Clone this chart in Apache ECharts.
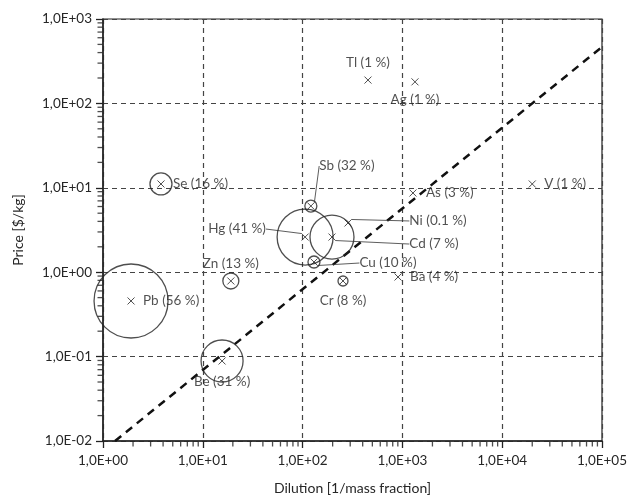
<!DOCTYPE html>
<html>
<head>
<meta charset="utf-8">
<script src="https://cdn.jsdelivr.net/npm/echarts@6/dist/echarts.min.js"></script>
<style>
  html, body { margin: 0; padding: 0; background: #fff; }
  #chart { width: 630px; height: 504px; }
</style>
</head>
<body>
<div id="chart"></div>
<script>
// elements, share and position
var elements = ['Tl', 'Ag', 'Se', 'Sb', 'Hg', 'Cd', 'Ni', 'Cu', 'Cr', 'Ba', 'As', 'V', 'Zn', 'Pb', 'Be'];
var shares   = ['1 %', '1 %', '16 %', '32 %', '41 %', '7 %', '0.1 %', '10 %', '8 %', '4 %', '3 %', '1 %', '13 %', '56 %', '31 %'];
var dilution = [452, 1337, 3.81, 121, 106, 197, 285, 130, 254, 904, 1276, 20000, 19.1, 1.91, 15.6];
var price    = [189, 180, 11.1, 6.08, 2.61, 2.61, 3.83, 1.32, 0.787, 0.877, 8.67, 11.1, 0.787, 0.456, 0.0887];
var bubble   = [0, 0, 11, 6, 28, 22, 0, 6, 5, 0, 0, 0, 8, 37, 21];

// dashed break-even line
var lineX = [1.32, 100000];
var lineY = [0.01, 466];

// axis decades and minor multipliers
var xDecades = [1, 10, 100, 1000, 10000];
var yDecades = [0.01, 0.1, 1, 10, 100];
var minorSteps = [2, 3, 4, 5, 6, 7, 8, 9];

var font = 'Lato';
var ink = '#262626';

// where each label sits
var place = {
  Tl: { position: 'top', distance: 6 },
  Ag: { position: 'bottom', distance: 7 },
  Se: { position: 'right', distance: 8 },
  Sb: { dx: 36, dy: -40, line: true },
  Hg: { dx: -68, dy: -8, line: true },
  Ni: { dx: 90, dy: -2, line: true },
  Cd: { dx: 102, dy: 7, line: true },
  Cu: { dx: 74, dy: 1, line: true },
  Cr: { position: 'bottom', distance: 9 },
  Ba: { position: 'right', distance: 8 },
  As: { position: 'right', distance: 9 },
  V:  { position: 'right', distance: 8 },
  Zn: { position: 'top', distance: 6 },
  Pb: { position: 'right', distance: 8 },
  Be: { position: 'bottom', distance: 10 }
};

function expLabel(v) {
  var e = Math.round(Math.log10(v));
  var s = Math.abs(e) < 10 ? '0' + Math.abs(e) : '' + Math.abs(e);
  return '1,0E' + (e < 0 ? '-' : '+') + s;
}

var crossData = elements.map(function (el, i) {
  var p = place[el];
  var item = { name: el + ' (' + shares[i] + ')', value: [dilution[i], price[i]] };
  if (p.line) {
    item.label = { position: 'inside' };
    item.labelLine = { show: true, lineStyle: { color: '#333', width: 0.8 } };
  } else {
    item.label = { position: p.position, distance: p.distance };
  }
  return item;
});

var bubbleData = [];
elements.forEach(function (el, i) {
  if (bubble[i] > 0) bubbleData.push([dilution[i], price[i], bubble[i]]);
});

// minor ticks on the bottom (x) and left (y) axis lines
var minorX = [];
xDecades.forEach(function (d) { minorSteps.forEach(function (m) { minorX.push([d * m, 0.01]); }); });
var minorY = [];
yDecades.forEach(function (d) { minorSteps.forEach(function (m) { minorY.push([1, d * m]); }); });

var myChart = echarts.init(document.getElementById('chart'));
var option = {
  animation: false,
  textStyle: { fontFamily: font },
  grid: {
    left: 103, right: 28, top: 19, bottom: 63,
    show: true, borderColor: '#222', borderWidth: 1.2, backgroundColor: 'transparent'
  },
  xAxis: {
    type: 'log', logBase: 10, min: 1, max: 100000,
    name: 'Dilution [1/mass fraction]', nameLocation: 'middle', nameGap: 40,
    nameTextStyle: { fontFamily: font, fontSize: 14, color: ink },
    axisLine: { lineStyle: { color: '#222', width: 1.5 } },
    axisTick: { show: true, length: 7, lineStyle: { color: '#222', width: 1.3 } },
    axisLabel: { formatter: expLabel, fontFamily: font, fontSize: 13.5, color: ink, margin: 13 },
    splitLine: { show: true, lineStyle: { color: '#444', type: [5, 4], width: 1.2 } }
  },
  yAxis: {
    type: 'log', logBase: 10, min: 0.01, max: 1000,
    name: 'Price [$/kg]', nameLocation: 'middle', nameGap: 78,
    nameTextStyle: { fontFamily: font, fontSize: 14, color: ink },
    axisLine: { lineStyle: { color: '#222', width: 1.5 } },
    axisTick: { show: true, length: 7, lineStyle: { color: '#222', width: 1.3 } },
    axisLabel: { formatter: expLabel, fontFamily: font, fontSize: 13.5, color: ink, margin: 11 },
    splitLine: { show: true, lineStyle: { color: '#444', type: [5, 4], width: 1.2 } }
  },
  series: [
    {
      type: 'line',
      data: lineX.map(function (x, i) { return [x, lineY[i]]; }),
      symbol: 'none',
      lineStyle: { color: '#111', width: 2.5, type: [8, 6] },
      z: 3
    },
    {
      type: 'scatter',
      data: bubbleData,
      symbol: 'circle',
      symbolSize: function (d) { return d[2] * 2; },
      itemStyle: { color: 'rgba(0,0,0,0)', borderColor: '#222', borderWidth: 1.3 },
      z: 4
    },
    {
      type: 'scatter',
      data: crossData,
      symbol: 'path://M0,0L10,10M10,0L0,10',
      symbolSize: 7,
      itemStyle: { color: 'rgba(0,0,0,0)', borderColor: '#222', borderWidth: 1 },
      label: {
        show: true,
        formatter: '{b}',
        fontFamily: font, fontSize: 13.5, color: ink
      },
      labelLayout: function (params) {
        var p = place[elements[params.dataIndex]];
        if (p.line) return { dx: p.dx, dy: p.dy };
        return {};
      },
      z: 5
    },
    {
      type: 'scatter',
      data: minorX,
      clip: false,
      silent: true,
      symbol: 'rect',
      symbolSize: [1.3, 5],
      symbolOffset: [0, 3],
      itemStyle: { color: '#222' },
      z: 6
    },
    {
      type: 'scatter',
      data: minorY,
      clip: false,
      silent: true,
      symbol: 'rect',
      symbolSize: [5, 1.3],
      symbolOffset: [-3, 0],
      itemStyle: { color: '#222' },
      z: 6
    }
  ]
};
myChart.setOption(option);
</script>
</body>
</html>
